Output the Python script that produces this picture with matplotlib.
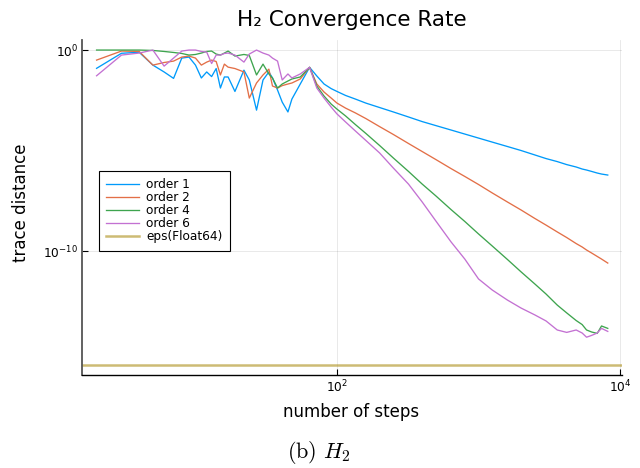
import numpy as np
import matplotlib
matplotlib.use("Agg")
import matplotlib.pyplot as plt
from matplotlib.ticker import FixedLocator, NullLocator, LogFormatterMathtext

# number of Trotter steps
steps = [2, 3, 4, 5, 6, 7, 8, 9, 10, 11, 12, 13, 14, 15, 16, 17, 19, 22, 24, 27,
         30, 33, 35, 38, 41, 45, 48, 55,
         64, 72, 81, 91, 100, 115, 135, 160, 200, 250, 320, 400, 500, 640, 800,
         1000, 1250, 1600, 2000, 2500, 3000, 3600, 4200, 4900, 5400, 5800, 6300,
         6900, 7400, 8192]

# log10 of the trace distance for each product-formula order
order1_log10 = [-0.91, -0.16, -0.11, -0.75, -1.09, -1.41, -0.40, -0.35, -0.75, -1.39,
                -1.09, -1.32, -0.92, -1.89, -1.34, -1.34, -2.06, -1.00, -1.49, -2.99,
                -1.49, -1.09, -1.39, -1.99, -2.59, -3.08, -2.44, -1.69,
                -0.86, -1.29, -1.69, -1.92, -2.06, -2.26, -2.44, -2.64, -2.86, -3.08,
                -3.33, -3.56, -3.76, -3.98, -4.18, -4.38, -4.58, -4.80, -5.00, -5.22,
                -5.40, -5.55, -5.70, -5.82, -5.92, -5.97, -6.04, -6.12, -6.17, -6.22]

order2_log10 = [-0.50, -0.05, -0.07, -0.75, -0.62, -0.55, -0.35, -0.30, -0.40, -0.75,
                -0.60, -0.50, -0.57, -1.24, -0.70, -0.85, -0.92, -1.09, -2.39, -1.64,
                -1.24, -0.95, -1.79, -1.89, -1.77, -1.69, -1.64, -1.44,
                -0.86, -1.69, -2.09, -2.39, -2.64, -2.89, -3.13, -3.41, -3.81, -4.20,
                -4.65, -5.05, -5.45, -5.90, -6.29, -6.69, -7.11, -7.56, -7.96, -8.38,
                -8.71, -9.05, -9.33, -9.63, -9.80, -9.95, -10.10, -10.27, -10.40, -10.60]

order4_log10 = [0.00, 0.00, 0.00, -0.02, -0.07, -0.12, -0.17, -0.25, -0.22, -0.15,
                -0.07, -0.05, -0.20, -0.25, -0.15, -0.05, -0.30, -0.22, -0.27, -1.24,
                -0.70, -1.19, -1.39, -1.89, -1.69, -1.54, -1.44, -1.34,
                -0.86, -1.79, -2.29, -2.69, -2.94, -3.28, -3.71, -4.15, -4.75, -5.37,
                -6.04, -6.67, -7.26, -7.94, -8.53, -9.15, -9.75, -10.42, -11.04, -11.64,
                -12.14, -12.69, -13.08, -13.46, -13.66, -13.93, -14.03, -14.10, -13.73, -13.85]

order6_log10 = [-1.28, -0.25, -0.15, 0.00, -0.80, -0.40, -0.05, 0.00, 0.00, -0.07,
                -0.10, -0.67, -0.25, -0.25, -0.17, -0.15, -0.25, -0.60, -0.20, 0.00,
                -0.15, -0.25, -0.40, -0.55, -1.49, -1.19, -1.39, -1.19,
                -0.86, -1.89, -2.39, -2.84, -3.18, -3.58, -4.03, -4.50, -5.12, -5.87,
                -6.67, -7.56, -8.51, -9.55, -10.40, -11.39, -11.94, -12.44, -12.84, -13.18,
                -13.48, -13.93, -14.05, -13.93, -14.08, -14.29, -14.20, -14.08, -13.85, -14.00]

eps_float64 = 2.220446049250313e-16

series_labels = ["order 1", "order 2", "order 4", "order 6"]
series_colors = ["#009AFA", "#E36F47", "#3EA44E", "#C371D2"]
eps_color = "#AC8E18"

fig = plt.figure(figsize=(6.4, 4.68), dpi=100)
W, H = 640, 468
ax = fig.add_axes([82 / W, 1 - 375 / H, (622 - 82) / W, (375 - 40) / H])

for vals, lab, col in zip([order1_log10, order2_log10, order4_log10, order6_log10],
                          series_labels, series_colors):
    ax.plot(steps, 10.0 ** np.asarray(vals), color=col, lw=0.95, label=lab)
ax.axhline(eps_float64, color=eps_color, lw=1.8, alpha=0.6, label="eps(Float64)")

ax.set_xscale("log")
ax.set_yscale("log")
ax.set_xlim(10 ** 0.198, 10 ** 4.014)
ax.set_ylim(10 ** -16.17, 10 ** 0.50)

ax.xaxis.set_major_locator(FixedLocator([1e2, 1e4]))
ax.yaxis.set_major_locator(FixedLocator([1e-10, 1e0]))
ax.xaxis.set_minor_locator(NullLocator())
ax.yaxis.set_minor_locator(NullLocator())
ax.xaxis.set_major_formatter(LogFormatterMathtext())
ax.yaxis.set_major_formatter(LogFormatterMathtext())
ax.tick_params(axis="both", which="major", direction="in", length=4, width=0.8,
               labelsize=8.7, pad=3)

ax.grid(True, which="major", color="black", alpha=0.1, lw=0.6)
ax.set_axisbelow(True)
for side in ("top", "right"):
    ax.spines[side].set_visible(False)
ax.spines["left"].set_color("#555555")
ax.spines["left"].set_linewidth(1.3)
ax.spines["bottom"].set_color("black")
ax.spines["bottom"].set_linewidth(1.0)

leg = ax.legend(loc="upper left", bbox_to_anchor=(99 / W, 1 - 171 / H),
                bbox_transform=fig.transFigure, borderaxespad=0, fontsize=8.7,
                fancybox=False, frameon=True, edgecolor="black", framealpha=1,
                handlelength=2.75, handletextpad=0.55, labelspacing=0.0,
                borderpad=0.6)
leg.get_frame().set_linewidth(0.8)

fig.text(352 / W, 1 - 20 / H, "H\u2082 Convergence Rate", ha="center", va="center",
         fontsize=15.5)
fig.text(351.5 / W, 1 - 412 / H, "number of steps", ha="center", va="center",
         fontsize=12)
fig.text(21.5 / W, 1 - 202.5 / H, "trace distance", ha="center", va="center",
         rotation=90, fontsize=12)
fig.text(319 / W, 1 - 453 / H, r"$\mathrm{(b)}\ H_2$", ha="center", va="center",
         fontsize=16, math_fontfamily="cm")

fig.savefig("out.png", dpi=100)
